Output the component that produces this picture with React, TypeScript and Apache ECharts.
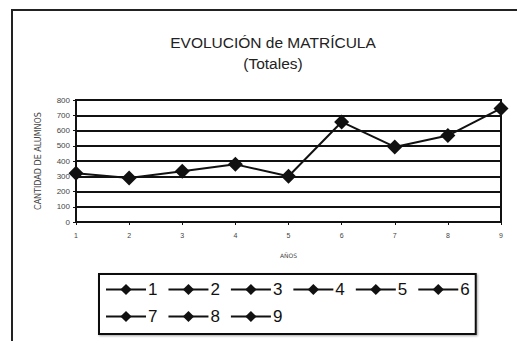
import React, { useEffect, useRef } from "react";
import * as echarts from "echarts";

const years = ["1", "2", "3", "4", "5", "6", "7", "8", "9"];
const enrolment = [320, 288, 333, 378, 300, 656, 492, 567, 745];
const yTicks = { min: 0, max: 800, interval: 100 };
const titleLines = ["EVOLUCIÓN de MATRÍCULA", "(Totales)"];
const xName = "AÑOS";
const yName = "CANTIDAD DE ALUMNOS";

const FONT = "'Liberation Sans', Arial, sans-serif";
const WIDE = "'DejaVu Sans', Verdana, sans-serif";

export default function App() {
  const ref = useRef<HTMLDivElement>(null);
  useEffect(() => {
    if (!ref.current) return;
    const chart = echarts.init(ref.current, undefined, { renderer: "svg" });
    const legendSeries = years.map((y) => ({
      name: y,
      type: "line" as const,
      data: [] as number[],
      symbol: "diamond",
      symbolSize: 12,
      itemStyle: { color: "#111" },
      lineStyle: { color: "#111", width: 2 },
    }));
    chart.setOption({
      animation: false,
      backgroundColor: "#fff",
      textStyle: { fontFamily: FONT },
      title: {
        text: titleLines.join("\n"),
        left: 268,
        textAlign: "center",
        top: 27,
        textStyle: {
          fontFamily: FONT,
          fontSize: 15.5,
          fontWeight: "normal",
          color: "#222",
          lineHeight: 21,
        },
      },
      graphic: [
        {
          type: "polyline",
          shape: { points: [[12, 341], [12, 10], [517, 10]] },
          style: { stroke: "#222", lineWidth: 2, fill: "none" },
          silent: true,
        },
      ],
      grid: {
        left: 76,
        right: 16,
        top: 100,
        height: 122,
        show: true,
        borderColor: "#111",
        borderWidth: 2,
        backgroundColor: "#fff",
      },
      xAxis: {
        type: "category",
        data: years,
        boundaryGap: false,
        name: xName,
        nameLocation: "middle",
        nameGap: 30,
        nameTextStyle: { fontSize: 6, color: "#444", fontFamily: WIDE },
        axisLine: { lineStyle: { color: "#111", width: 2 } },
        axisTick: { show: true, length: 3, lineStyle: { color: "#111" } },
        axisLabel: { fontSize: 7, color: "#444", margin: 10 },
        splitLine: { show: false },
      },
      yAxis: {
        type: "value",
        min: yTicks.min,
        max: yTicks.max,
        interval: yTicks.interval,
        name: yName,
        nameLocation: "middle",
        nameGap: 34,
        nameTextStyle: { fontSize: 8, color: "#444", fontFamily: WIDE },
        axisLine: { show: true, lineStyle: { color: "#111", width: 2 } },
        axisTick: { show: true, length: 3, lineStyle: { color: "#111" } },
        axisLabel: { fontSize: 8, color: "#444", margin: 6 },
        splitLine: { show: true, lineStyle: { color: "#111", width: 2 } },
      },
      legend: {
        data: years,
        left: 99,
        top: 274,
        width: 372,
        padding: [7, 6, 9, 6],
        itemGap: 10,
        itemWidth: 40,
        itemHeight: 14,
        borderColor: "#111",
        borderWidth: 2,
        shadowColor: "rgba(0,0,0,0.35)",
        shadowOffsetX: 1,
        shadowOffsetY: 1,
        shadowBlur: 2,
        backgroundColor: "#fff",
        selectedMode: false,
        textStyle: { fontSize: 17, color: "#111", fontFamily: FONT, padding: [0, 0, 0, -3] },
      },
      series: [
        {
          name: "total",
          type: "line",
          data: enrolment,
          symbol: "diamond",
          symbolSize: 15,
          itemStyle: { color: "#111" },
          lineStyle: { color: "#111", width: 2 },
          z: 5,
        },
        ...legendSeries,
      ],
    });
    return () => chart.dispose();
  }, []);
  return (
    <div
      ref={ref}
      style={{ position: "fixed", left: 0, top: 0, width: 517, height: 341 }}
    />
  );
}
